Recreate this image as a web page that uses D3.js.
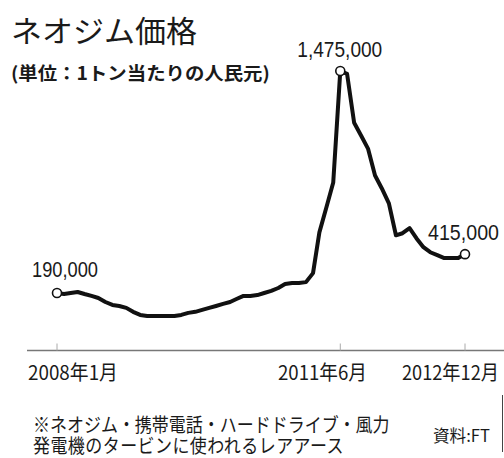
<!DOCTYPE html>
<html>
<head>
<meta charset="utf-8">
<script src="https://cdn.jsdelivr.net/npm/d3@7"></script>
<style>
  html, body { margin: 0; padding: 0; background: #fff; }
  svg { display: block; }
  text { fill: #1a1a1a; }
</style>
</head>
<body>
<svg id="chart" width="504" height="458"></svg>
<script>
// Neodymium price, yuan per tonne, monthly from Jan 2008 to Dec 2012
const startMonth = "2008-01";
const prices = [
  190000, 184000, 190000, 196000, 184000, 173000, 161000, 138000, 121000, 115000, 104000, 81000,
  63000, 57000, 57000, 57000, 57000, 57000, 63000, 75000, 81000, 92000, 104000, 115000,
  127000, 138000, 155000, 173000, 173000, 178000, 190000, 202000, 219000, 242000, 248000, 248000,
  253000, 305000, 541000, 686000, 830000, 1475000, 1458000, 1175000, 1100000, 1026000, 870000, 795000,
  709000, 524000, 536000, 565000, 507000, 455000, 426000, 409000, 392000, 392000, 392000, 415000
];
// Highlighted points (month index) and their labels
const highlightIdx = [0, 41, 59];
const highlightLabels = ["190,000", "1,475,000", "415,000"];
// Axis ticks
const tickMonths = ["2008-01", "2011-06", "2012-12"];
const tickLabels = ["2008年1月", "2011年6月", "2012年12月"];

const parseMonth = d3.timeParse("%Y-%m");
const t0 = parseMonth(startMonth);
const data = prices.map((v, i) => ({ date: d3.timeMonth.offset(t0, i), value: v }));

const svg = d3.select("#chart");
const JP = "'Noto Sans CJK JP', sans-serif";

// Draws a text whose glyphs are scaled to a given width (and optional vertical stretch)
function fitText(parent, str, x, y, size, width, opts = {}) {
  const t = parent.append("text")
    .attr("font-family", opts.family || JP)
    .attr("font-size", size)
    .attr("font-weight", opts.weight || 400)
    .text(str);
  const natural = t.node().getComputedTextLength();
  const sx = width / natural;
  const sy = opts.sy || 1;
  t.attr("transform", `translate(${x},${y}) scale(${sx},${sy})`);
  return t;
}

const x = d3.scaleTime()
  .domain([parseMonth("2008-01"), parseMonth("2012-12")])
  .range([57, 465]);
const y = d3.scaleLinear()
  .domain([190000, 1475000])
  .range([293, 71]);

// Title and unit
fitText(svg, "ネオジム価格", 11, 42, 30, 186, { weight: 400 });
fitText(svg, "(単位：1トン当たりの人民元)", 11, 80, 18, 259, { weight: 700 });

// Baseline axis
const axisY = 350.5;
const axis = svg.append("g").attr("transform", `translate(0,${axisY})`);
axis.append("line")
  .attr("x1", 27).attr("x2", 504)
  .attr("stroke", "#777").attr("stroke-width", 1.5);
axis.selectAll("line.tick")
  .data(tickMonths)
  .join("line")
  .attr("class", "tick")
  .attr("x1", d => x(parseMonth(d))).attr("x2", d => x(parseMonth(d)))
  .attr("y1", -7).attr("y2", 0)
  .attr("stroke", "#aaa").attr("stroke-width", 1);

const tickLabelPos = [{ x: 28, w: 90 }, { x: 278, w: 89 }, { x: 402, w: 97 }];
tickLabels.forEach((s, i) => fitText(svg, s, tickLabelPos[i].x, 380, 19, tickLabelPos[i].w, { sy: 1.05 }));

// Price line
const line = d3.line()
  .x(d => x(d.date))
  .y(d => y(d.value))
  .curve(d3.curveLinear);
svg.append("path")
  .datum(data)
  .attr("d", line)
  .attr("fill", "none")
  .attr("stroke", "#111")
  .attr("stroke-width", 4)
  .attr("stroke-linejoin", "round")
  .attr("stroke-linecap", "round");

// Highlight markers
svg.selectAll("circle.mark")
  .data(highlightIdx)
  .join("circle")
  .attr("class", "mark")
  .attr("cx", i => x(data[i].date))
  .attr("cy", i => y(data[i].value))
  .attr("r", 4.5)
  .attr("fill", "#fff")
  .attr("stroke", "#111")
  .attr("stroke-width", 1.6);

// Value labels
const labelPos = [
  { dx: -25, dy: -16, w: 66 },
  { dx: -43, dy: -14, w: 85 },
  { dx: -37, dy: -14, w: 71 }
];
highlightIdx.forEach((idx, k) => {
  fitText(svg, highlightLabels[k],
    x(data[idx].date) + labelPos[k].dx,
    y(data[idx].value) + labelPos[k].dy,
    22, labelPos[k].w, { family: "'Liberation Sans', Arial, sans-serif" });
});

// Footnote (two lines in one text block) and source
const noteLines = [
  "※ネオジム・携帯電話・ハードドライブ・風力",
  "発電機のタービンに使われるレアアース"
];
const noteScaleY = 1.15;
const note = svg.append("text")
  .attr("font-family", JP)
  .attr("font-size", 17)
  .attr("transform", `translate(33,432) scale(1,${noteScaleY})`);
note.selectAll("tspan")
  .data(noteLines)
  .join("tspan")
  .attr("x", 0)
  .attr("dy", (d, i) => i === 0 ? 0 : 21 / noteScaleY)
  .attr("letter-spacing", (d, i) => i === 0 ? 0 : 0.45)
  .text(d => d);

fitText(svg, "資料:FT", 433, 442, 16, 57, { sy: 1.05 });

svg.append("line")
  .attr("x1", 502.5).attr("x2", 502.5)
  .attr("y1", 395).attr("y2", 452)
  .attr("stroke", "#444").attr("stroke-width", 1);
</script>
</body>
</html>
